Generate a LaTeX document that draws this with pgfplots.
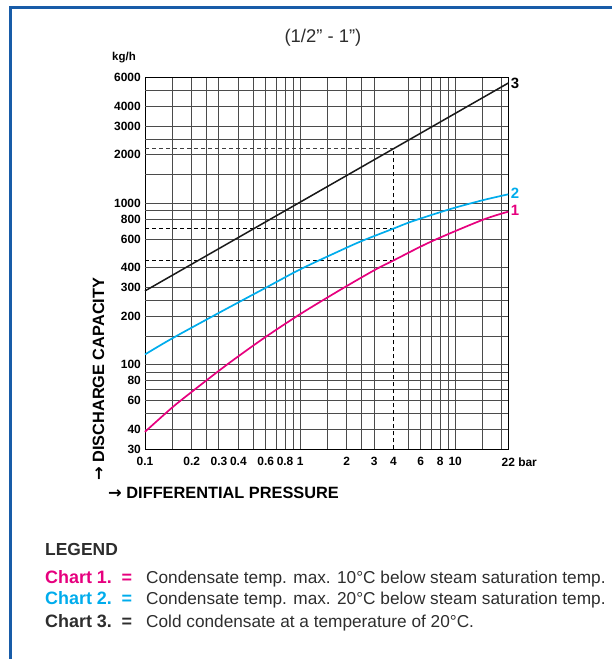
\documentclass[border=0pt]{standalone}
\usepackage{pgfplots}
\pgfplotsset{compat=1.18}
\usepackage{fontspec}
\setmainfont{Liberation Sans}
\newfontfamily\symfont{DejaVu Sans}
\definecolor{frameblue}{RGB}{24,92,168}
\definecolor{cmag}{RGB}{230,0,126}
\definecolor{ccyan}{RGB}{0,172,236}
\definecolor{gridc}{RGB}{75,75,75}
\definecolor{txt}{RGB}{45,45,45}
\newcommand{\arr}{{\symfont\bfseries →}}

\begin{document}
\begin{tikzpicture}
\path[use as bounding box] (0bp,0bp) rectangle (612bp,659bp);
\draw[line width=2.7bp, frameblue] (10.7bp,-2bp) -- (10.7bp,651.7bp) -- (614bp,651.7bp);

\begin{axis}[
    at={(145bp,209.7bp)}, anchor=south west,
    scale only axis, width=363.3bp, height=371.6bp,
    xmode=log, ymode=log,
    xmin=0.1, xmax=22, ymin=30, ymax=6000,
    axis line style={black, line width=1bp},
    major tick length=0pt, minor tick length=0pt,
    xtick={0.1,0.2,0.3,0.4,0.6,0.8,1,2,3,4,6,8,10,22},
    xticklabels={0.1,0.2,0.3,0.4,0.6,0.8,1,2,3,4,6,8,10,22\rlap{ bar}},
    ytick={30,40,60,80,100,200,300,400,600,800,1000,2000,3000,4000,6000},
    yticklabels={30,40,60,80,100,200,300,400,600,800,1000,2000,3000,4000,6000},
    minor xtick={}, minor ytick={},
    xmajorgrids=false, ymajorgrids=false,
    extra x ticks={0.15,0.2,0.25,0.3,0.4,0.5,0.6,0.7,0.8,0.9,1,1.5,2,2.5,3,5,6,7,8,9,10,15,20},
    extra x tick labels={},
    extra x tick style={xmajorgrids=true, major grid style={gridc, line width=1bp}},
    extra y ticks={40,50,60,70,80,90,100,150,200,250,300,400,600,800,900,1000,1500,2000,2500,3000,4000,5000},
    extra y tick labels={},
    extra y tick style={ymajorgrids=true, major grid style={gridc, line width=1bp}},
    /pgf/number format/assume math mode=true,
    ticklabel style={font=\fontsize{12}{12}\selectfont\bfseries, text=black, inner sep=0pt},
    xticklabel style={anchor=north, yshift=-8bp},
    yticklabel style={anchor=east, xshift=-4bp},
    clip=false,
]
% guide lines at 4 bar
\addplot[black!75, line width=0.8bp, dash pattern=on 4bp off 3bp] coordinates {(0.1,2180) (4,2180)};
\addplot[black, line width=0.8bp, dash pattern=on 4bp off 3bp] coordinates {(0.1,698) (4,698)};
\addplot[black, line width=0.8bp, dash pattern=on 4bp off 3bp] coordinates {(0.1,443) (4,443)};
\addplot[black, line width=0.8bp, dash pattern=on 4bp off 3bp] coordinates {(4,30) (4,2180)};

% chart 3
\addplot[black!90, line width=1.5bp] coordinates {(0.1,287) (22,5560)};
% chart 2
\addplot[ccyan, line width=1.7bp, smooth] coordinates {
    (0.1,116) (0.15,146) (0.3,210) (0.6,300) (1,390) (1.8,508)
    (2.5,585) (4,698) (5.3,775) (9.3,922) (15,1045) (22,1138)
};
% chart 1
\addplot[cmag, line width=1.7bp, smooth] coordinates {
    (0.1,38.5) (0.15,54.5) (0.2,68) (0.3,92) (0.4,113) (0.6,149)
    (1,206) (1.8,290) (3,385) (4,443) (7,580) (15,790) (22,888)
};

\node[anchor=west, inner sep=0pt, font=\fontsize{15}{15}\selectfont\bfseries] at (axis cs:22,5560) {\,3};
\node[anchor=west, inner sep=0pt, font=\fontsize{15}{15}\selectfont\bfseries, text=ccyan] at (axis cs:22,1160) {\,2};
\node[anchor=west, inner sep=0pt, font=\fontsize{15}{15}\selectfont\bfseries, text=cmag] at (axis cs:22,900) {\,1};
\end{axis}

% title and axis names
\node[text=txt, font=\fontsize{18.5}{18.5}\selectfont] at (323bp,621bp) {(1/2" - 1”)};
\node[anchor=west, inner sep=0pt, font=\fontsize{11.5}{11.5}\selectfont\bfseries] at (112bp,601.3bp) {kg/h};
\node[anchor=base west, inner sep=0pt, font=\fontsize{16.4}{16.4}\selectfont\bfseries] at (108bp,160.5bp) {\arr\ DIFFERENTIAL PRESSURE};
\node[anchor=base west, inner sep=0pt, rotate=90, font=\fontsize{16.4}{16.4}\selectfont\bfseries] at (104bp,178bp) {\arr\ DISCHARGE CAPACITY};

% legend block
\begin{scope}[every node/.style={anchor=base west, inner sep=0pt, font=\fontsize{17.3}{17.3}\selectfont}]
\node[font=\fontsize{17.5}{17.5}\selectfont\bfseries, text=txt] at (45bp,103bp) {LEGEND};
\node[font=\fontsize{18}{18}\selectfont\bfseries, text=cmag] at (45bp,75bp) {Chart 1.\, =};
\node[font=\fontsize{18}{18}\selectfont\bfseries, text=ccyan] at (45bp,54bp) {Chart 2.\, =};
\node[font=\fontsize{18}{18}\selectfont\bfseries, text=txt] at (45bp,32bp) {Chart 3.\, =};
\node[text=txt] at (146bp,75bp) {Condensate temp. max. 10°C below steam saturation temp.};
\node[text=txt] at (146bp,54bp) {Condensate temp. max. 20°C below steam saturation temp.};
\node[text=txt] at (146bp,32bp) {Cold condensate at a temperature of 20°C.};
\end{scope}
\end{tikzpicture}
\end{document}
